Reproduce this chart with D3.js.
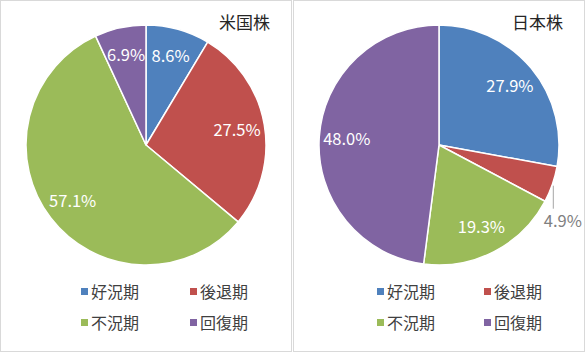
<!DOCTYPE html>
<html><head><meta charset="utf-8">
<script src="https://cdn.jsdelivr.net/npm/d3@7"></script>
<style>body{margin:0;background:#fff;} svg{display:block;}</style>
</head><body>
<svg id="chart" width="586" height="352"></svg>
<script>
const categories = ["好況期", "後退期", "不況期", "回復期"];
const colors = ["#4F81BD", "#C0504D", "#9BBB59", "#8064A2"];
const titles = ["米国株", "日本株"];
const usValues = [8.6, 27.5, 57.1, 6.9];
const jpValues = [27.9, 4.9, 19.3, 48.0];
const outsideLabel = [[false,false,false,false],[false,true,false,false]];

const svg = d3.select("#chart");
const font = "'Noto Sans CJK JP', 'Noto Sans', sans-serif";
const panels = [
  {x: 0, values: usValues, legendX: [81, 190]},
  {x: 293, values: jpValues, legendX: [84, 191]}
];
const W = 292, H = 351, R = 120;

panels.forEach((p, pi) => {
  const g = svg.append("g").attr("transform", `translate(${p.x},0)`);
  g.append("rect").attr("x", 0.5).attr("y", 0.5).attr("width", W - 1).attr("height", H)
    .attr("fill", "#fff").attr("stroke", "#d9d9d9").attr("stroke-width", 1);

  const cx = 146, cy = 145;
  const pie = d3.pie().sort(null).value(d => d)(p.values);
  const arc = d3.arc().innerRadius(0).outerRadius(R);
  const labelArc = d3.arc().innerRadius(R * 0.77).outerRadius(R * 0.77);
  const pg = g.append("g").attr("transform", `translate(${cx},${cy})`);
  pg.selectAll("path").data(pie).join("path")
    .attr("d", arc).attr("fill", (d, i) => colors[i])
    .attr("stroke", "#fff").attr("stroke-width", 1.5).attr("stroke-linejoin", "round");

  pie.forEach((d, i) => {
    const txt = d.data.toFixed(1) + "%";
    if (outsideLabel[pi][i]) {
      const a = (d.startAngle + d.endAngle) / 2;
      const ex = Math.sin(a) * (R + 1), ey = -Math.cos(a) * (R + 1);
      pg.append("path")
        .attr("d", `M${ex},${ey + 1}L${ex},${ey + 24}`)
        .attr("stroke", "#a6a6a6").attr("stroke-width", 1).attr("fill", "none");
      pg.append("text").attr("x", ex + 9.5).attr("y", ey + 42)
        .attr("text-anchor", "middle").attr("font-family", font).attr("font-size", 16.5)
        .attr("fill", "#808080").text(txt);
    } else {
      const c = labelArc.centroid(d);
      pg.append("text").attr("x", c[0]).attr("y", c[1] + 6)
        .attr("text-anchor", "middle").attr("font-family", font).attr("font-size", 16.5)
        .attr("fill", "#fff").text(txt);
    }
  });

  g.append("text").attr("x", 270).attr("y", 29).attr("text-anchor", "end")
    .attr("font-family", font).attr("font-size", 17).attr("fill", "#262626").text(titles[pi]);

  categories.forEach((c, i) => {
    const col = i % 2, row = Math.floor(i / 2);
    const x = p.legendX[col], y = 292 + row * 31;
    g.append("rect").attr("x", x).attr("y", y - 4).attr("width", 7).attr("height", 7).attr("fill", colors[i]);
    g.append("text").attr("x", x + 10).attr("y", y + 6)
      .attr("font-family", font).attr("font-size", 16).attr("fill", "#404040").text(c);
  });
});
</script>
</body></html>
